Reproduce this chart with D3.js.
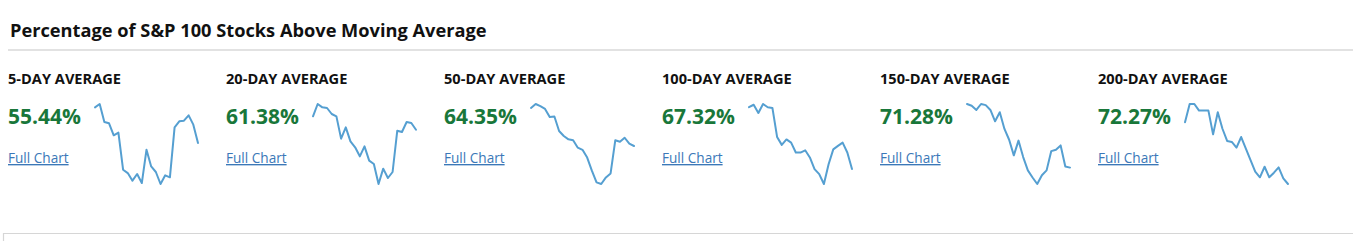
<!DOCTYPE html>
<html>
<head>
<meta charset="utf-8">
<script src="https://cdn.jsdelivr.net/npm/d3@7"></script>
<style>
  html, body { margin: 0; padding: 0; background: #fff; }
  svg { display: block; font-family: "Open Sans", sans-serif; }
</style>
</head>
<body>
<svg id="chart" width="1353" height="241"></svg>
<script>
const title = "Percentage of S&P 100 Stocks Above Moving Average";
const categories = ["5-DAY AVERAGE", "20-DAY AVERAGE", "50-DAY AVERAGE", "100-DAY AVERAGE", "150-DAY AVERAGE", "200-DAY AVERAGE"];
const currentValues = [55.44, 61.38, 64.35, 67.32, 71.28, 72.27];
const linkLabel = "Full Chart";

const series5 = [82.2, 84.7, 71.2, 70.2, 61.2, 63.2, 35.4, 32.9, 27.2, 32.2, 25.4, 50.4, 37.9, 33.7, 24.7, 31.2, 29.7, 67.2, 71.7, 72.2, 76.2, 69.2, 55.44];
const series20 = [69.4, 76.8, 74.8, 74.4, 70.8, 69.4, 56.0, 62.8, 54.4, 50.8, 45.4, 51.4, 42.8, 40.8, 28.8, 38.0, 32.4, 36.0, 60.8, 60.0, 66.0, 65.4, 61.38];
const series50 = [83.5, 85.5, 84.4, 83.0, 78.9, 79.2, 71.9, 69.4, 67.7, 67.2, 63.5, 62.4, 58.5, 51.9, 46.0, 45.2, 48.5, 50.5, 67.2, 66.5, 68.5, 65.5, 64.35];
const series100 = [92.3, 93.3, 90.0, 93.6, 92.3, 92.0, 80.3, 77.1, 79.3, 78.0, 74.0, 74.0, 74.9, 72.0, 67.3, 65.3, 61.3, 69.3, 75.3, 76.7, 78.0, 74.0, 67.32];
const series150 = [93.7, 93.1, 91.6, 93.7, 93.3, 91.6, 87.6, 90.8, 84.9, 81.1, 75.6, 80.8, 75.0, 70.3, 67.8, 65.5, 68.6, 70.3, 77.1, 77.6, 79.1, 71.7, 71.28];
const series200 = [91.0, 96.5, 96.5, 94.5, 94.5, 94.5, 87.3, 94.0, 89.0, 85.3, 85.0, 83.3, 86.5, 83.0, 79.5, 76.0, 74.3, 77.5, 74.3, 75.7, 77.3, 74.0, 72.27];
const allSeries = [series5, series20, series50, series100, series150, series200];

const svg = d3.select("#chart");

// Title
const t = svg.append("text")
  .attr("x", 10).attr("y", 37)
  .attr("font-size", 17).attr("font-weight", 700)
  .attr("fill", "#111")
  .text(title);
const tw = t.node().getComputedTextLength();
if (tw > 0) t.attr("font-size", 17 * 477 / tw);

svg.append("line")
  .attr("x1", 8).attr("x2", 1353).attr("y1", 50).attr("y2", 50)
  .attr("stroke", "#d9d9d9").attr("stroke-width", 1.5);

// Bottom frame corner
svg.append("path")
  .attr("d", "M3.5,241 V233.5 H1353")
  .attr("fill", "none").attr("stroke", "#d6d6d6").attr("stroke-width", 1.2);

const colX = d3.scaleBand().domain(categories).range([8, 8 + 218 * 6]).paddingInner(0).paddingOuter(0);

categories.forEach((cat, i) => {
  const x0 = colX(cat);
  const g = svg.append("g").attr("transform", `translate(${x0},0)`);

  g.append("text")
    .attr("x", 0).attr("y", 84)
    .attr("font-size", 14.6).attr("font-weight", 700)
    .attr("fill", "#111")
    .text(cat);

  g.append("text")
    .attr("x", 0).attr("y", 124)
    .attr("font-size", 21).attr("font-weight", 700)
    .attr("fill", "#19773a")
    .text(d3.format(".2f")(currentValues[i]) + "%");

  g.append("text")
    .attr("x", 0).attr("y", 163)
    .attr("font-size", 13.6).attr("font-weight", 400)
    .attr("fill", "#3b78b8")
    .attr("text-decoration", "underline")
    .text(linkLabel);

  const data = allSeries[i];
  const xs = d3.scaleLinear().domain([0, data.length - 1]).range([87, 190]);
  const ys = d3.scaleLinear().domain(d3.extent(data)).range([184, 104]);
  const line = d3.line().x((d, j) => xs(j)).y(d => ys(d));
  g.append("path")
    .datum(data)
    .attr("d", line)
    .attr("fill", "none")
    .attr("stroke", "#559fd1")
    .attr("stroke-width", 2)
    .attr("stroke-linejoin", "round")
    .attr("stroke-linecap", "round");
});
</script>
</body>
</html>
